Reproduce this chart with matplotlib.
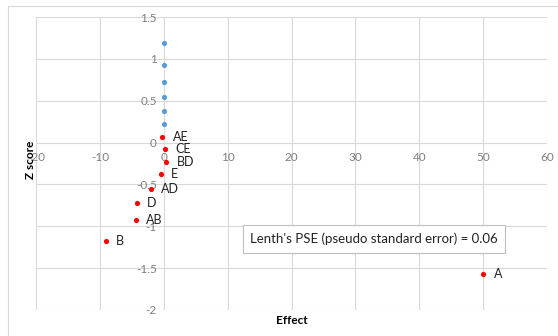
import matplotlib.pyplot as plt
from matplotlib.lines import Line2D

# unlabeled effects (blue)
blue_effect = [0.0, 0.0, 0.0, 0.0, 0.0, 0.0]
blue_z = [1.19, 0.93, 0.72, 0.54, 0.38, 0.22]

# labeled effects (red)
red_names = ["AE", "CE", "BD", "E", "AD", "D", "AB", "B", "A"]
red_effect = [-0.2, 0.2, 0.4, -0.5, -2.0, -4.2, -4.4, -9.1, 50.0]
red_z = [0.07, -0.08, -0.23, -0.38, -0.55, -0.72, -0.93, -1.18, -1.57]

x_ticks = [-20, -10, 0, 10, 20, 30, 40, 50, 60]
y_ticks = [-2, -1.5, -1, -0.5, 0, 0.5, 1, 1.5]

plt.rcParams['font.family'] = ['Lato', 'DejaVu Sans']

fig = plt.figure(figsize=(5.58, 3.36), dpi=100)
ax = fig.add_axes([36 / 558, 1 - 310 / 336, 511 / 558, 293 / 336])

ax.scatter(blue_effect, blue_z, s=14, color="#5B9BD5", zorder=3, linewidths=0)
ax.scatter(red_effect, red_z, s=14, color="#FF0000", zorder=3, linewidths=0)
for name, x, y in zip(red_names, red_effect, red_z):
    ax.annotate(name, (x, y), xytext=(7.5, 0), textcoords="offset points",
                va="center", ha="left", fontsize=9, color="#222222")

ax.set_xlim(-20, 60)
ax.set_ylim(-2, 1.5)
ax.set_xticks(x_ticks)
ax.set_yticks(y_ticks)
ax.set_xticklabels([str(t) for t in x_ticks])
ax.set_yticklabels(["-2", "-1.5", "-1", "-0.5", "0", "0.5", "1", "1.5"])
ax.grid(True, color="#D9D9D9", linewidth=0.8)
ax.set_axisbelow(True)

# axes cross at zero, like the spreadsheet chart
ax.spines['left'].set_position(('data', 0))
ax.spines['bottom'].set_position(('data', 0))
for s in ax.spines.values():
    s.set_visible(False)
ax.tick_params(length=0, labelsize=8.5, labelcolor="#7F7F7F")
ax.tick_params(axis='x', pad=7)
ax.tick_params(axis='y', pad=5)

fig.text(292 / 558, 1 - 320 / 336, "Effect", ha="center", va="center",
         fontsize=8.5, fontweight="bold")
fig.text(30 / 558, 1 - 160 / 336, "Z score", ha="center", va="center",
         fontsize=8.5, fontweight="bold", rotation=90)

fig.text(374 / 558, 1 - 239 / 336, "Lenth's PSE (pseudo standard error) = 0.06",
         ha="center", va="center", fontsize=9.5, color="#222222",
         bbox=dict(boxstyle="square,pad=0.55", fc="white", ec="#BFBFBF", lw=0.8))

# partial chart border
fig.add_artist(Line2D([8 / 558, 8 / 558], [0, 1 - 6 / 336], transform=fig.transFigure,
                      color="#D9D9D9", lw=0.8))
fig.add_artist(Line2D([8 / 558, 1], [1 - 6 / 336, 1 - 6 / 336], transform=fig.transFigure,
                      color="#D9D9D9", lw=0.8))

fig.savefig("out.png", dpi=100)
